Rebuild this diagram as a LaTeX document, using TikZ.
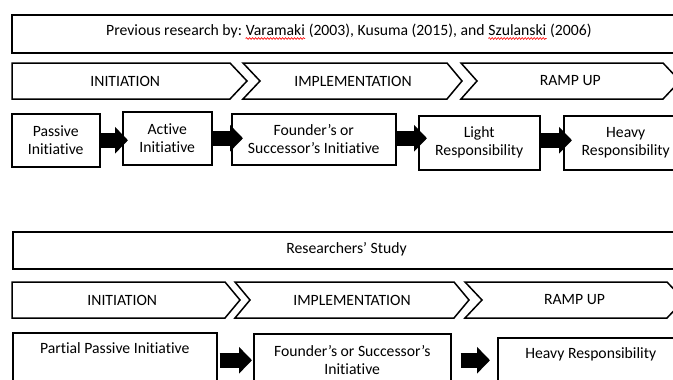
\documentclass[tikz,border=0pt]{standalone}
\usepackage{fontspec}
\setmainfont{Carlito}[Ligatures=NoCommon]
\usetikzlibrary{arrows.meta,decorations.pathmorphing}

% chevron band: name, left, notch, right, tip, top, bottom, text
\newcommand\chevron[8]{%
  \draw[chev] (#2,#6) -- (#4,#6) -- (#5,{(#6+#7)/2}) -- (#4,#7) -- (#2,#7)
    -- (#3,{(#6+#7)/2}) -- cycle;
  \node (#1) at ({(#2+#3+#4+#5)/4},{(#6+#7)/2}) {#8};}

\begin{document}
\begin{tikzpicture}[x=1pt,y=-1pt,
  every node/.style={font=\fontsize{15.7}{18}\selectfont, inner sep=0pt},
  box/.style={draw, line width=1.5pt, anchor=north west, align=center},
  chev/.style={draw, line width=1.5pt, line join=miter},
  piece/.style={anchor=base west},
  spellwave/.style={draw=red, line width=0.6pt, decorate,
    decoration={snake, amplitude=0.9pt, segment length=3pt}},
  blockarrow/.style={line width=15pt, -{Triangle[length=13pt,width=26pt]}}]

\useasboundingbox (0,0) rectangle (673,380);
\clip (0,0) rectangle (673,380);

% ---------- upper part: earlier research ----------
\node[box, minimum width=670pt, minimum height=38pt] (title1) at (11,14) {};
\node[piece] (tA) at (106,35) {Previous research by:};
\node[piece] (tB) at ([xshift=3.5pt]tA.base east) {Varamaki};
\node[piece] (tC) at ([xshift=3.5pt]tB.base east) {(2003), Kusuma (2015), and};
\node[piece] (tD) at ([xshift=3.5pt]tC.base east) {Szulanski};
\node[piece] (tE) at ([xshift=3.5pt]tD.base east) {(2006)};
\draw[spellwave] ([yshift=-3.5pt]tB.base west) -- ([yshift=-3.5pt]tB.base east);
\draw[spellwave] ([yshift=-3.5pt]tD.base west) -- ([yshift=-3.5pt]tD.base east);

\chevron{ini1}{12}{12}{230}{247}{63}{99}{INITIATION}
\chevron{imp1}{243}{260}{447}{462}{63}{99}{IMPLEMENTATION}
\chevron{ramp1}{461}{477}{663}{680}{63}{99}{RAMP UP}

\node[box, minimum width=88pt,  minimum height=53pt] (pas) at (11,113)  {Passive\\Initiative};
\node[box, minimum width=89pt,  minimum height=53pt] (act) at (122,111) {Active\\Initiative};
\node[box, minimum width=164pt, minimum height=51pt] (fou) at (231,113) {Founder’s or\\Successor’s Initiative};
\node[box, minimum width=121pt, minimum height=54pt] (lig) at (418,115) {Light\\Responsibility};
\node[box, minimum width=124pt, minimum height=54pt] (hev) at (563,115) {Heavy\\Responsibility};

\draw[blockarrow, shorten >=-6pt]  (pas.east) -- (pas.east -| act.west);
\draw[blockarrow, shorten >=-12pt] (act.east) -- (act.east -| fou.west);
\draw[blockarrow, shorten >=-9pt]  ([yshift=1pt]fou.east) -- ([yshift=1pt]fou.east -| lig.west);
\draw[blockarrow, shorten >=-9pt]  ([yshift=2.5pt]lig.east) -- ([yshift=2.5pt]lig.east -| hev.west);

% ---------- lower part: this study ----------
\node[box, minimum width=669pt, minimum height=37pt] (title2) at (12,231) {};
\node[anchor=base] (title2txt) at (346.5,253.5) {Researchers’ Study};

\chevron{ini2}{12}{12}{225}{240}{282}{318}{INITIATION}
\chevron{imp2}{235}{250}{454}{469}{282}{318}{IMPLEMENTATION}
\chevron{ramp2}{465}{482}{667}{684}{282}{318}{RAMP UP}

\node[box, minimum width=204pt, minimum height=55pt] (ppi) at (12,332)  {};
\node[box, minimum width=197pt, minimum height=53pt] (fsi) at (253,333) {};
\node[box, minimum width=186pt, minimum height=45pt] (hvy) at (497,337) {};

\node[anchor=base] (ppitxt) at (ppi.north |- 0,353) {Partial Passive Initiative};
\node[anchor=north, align=center] (fsitxt) at (fsi.north |- 0,345) {Founder’s or Successor’s\\Initiative};
\node[anchor=base] (hvytxt) at (hvy.north |- 0,358) {Heavy Responsibility};

\draw[blockarrow, shorten <=2pt, shorten >=1pt] (ppi.east) -- (ppi.east -| fsi.west);
\draw[blockarrow, shorten <=9pt, shorten >=7pt] (fsi.east) -- (fsi.east -| hvy.west);

\end{tikzpicture}
\end{document}
